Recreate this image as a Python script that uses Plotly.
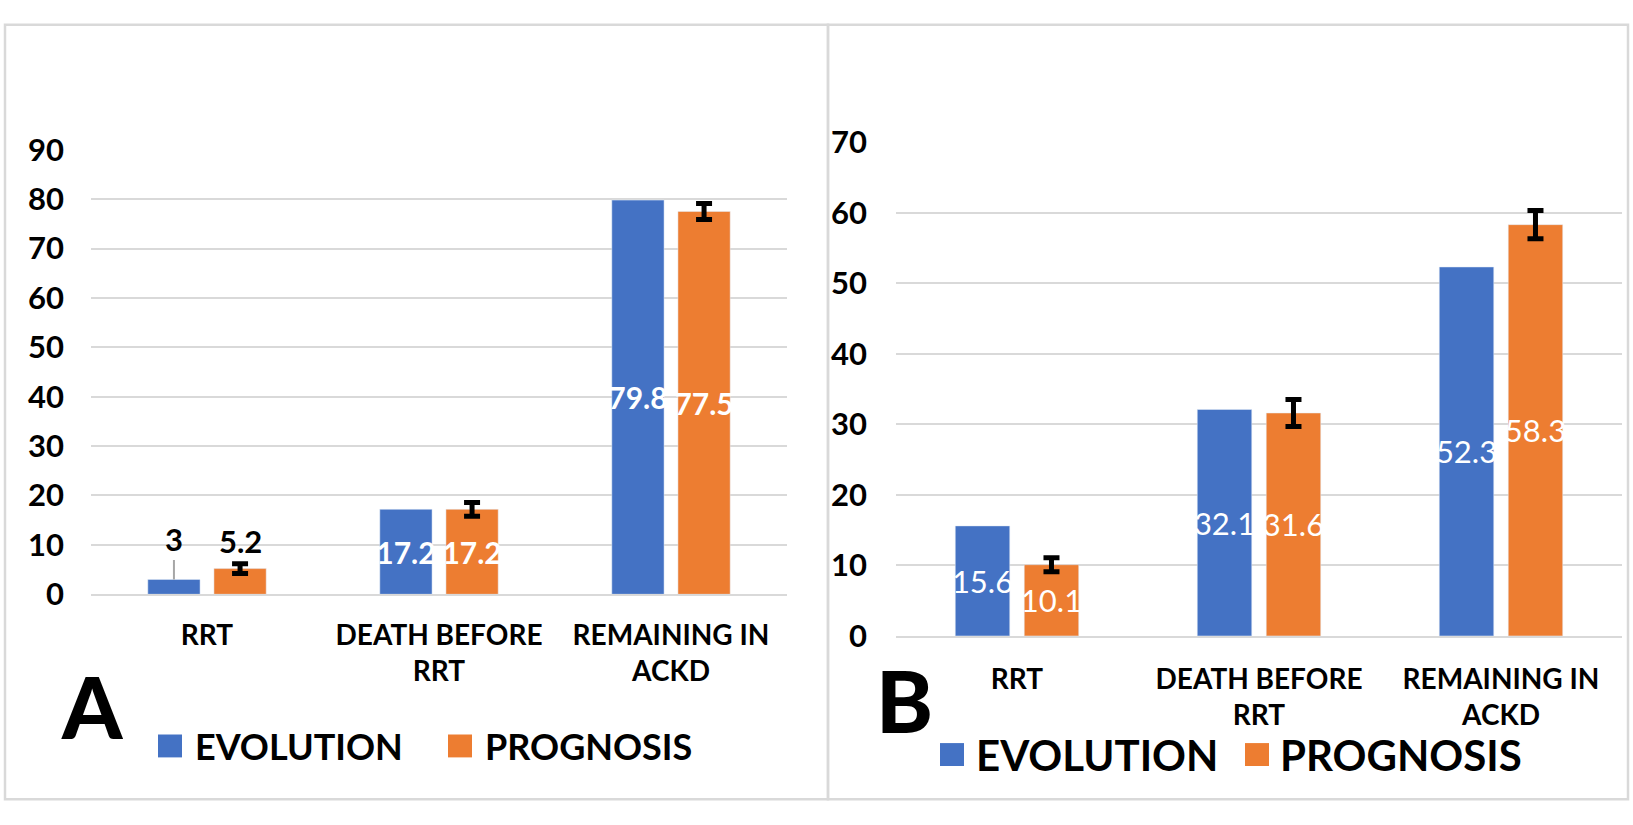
import plotly.graph_objects as go

W, H = 1633, 825

categories = ["RRT", "DEATH BEFORE<br>RRT", "REMAINING IN<br>ACKD"]
series_names = ["EVOLUTION", "PROGNOSIS"]
colors = ["#4472C4", "#ED7D31"]

# Panel A
a_evolution = [3.0, 17.2, 79.8]
a_prognosis = [5.2, 17.2, 77.5]
a_prognosis_err = [1.0, 1.4, 1.6]

# Panel B
b_evolution = [15.6, 32.1, 52.3]
b_prognosis = [10.1, 31.6, 58.3]
b_prognosis_err = [1.0, 1.9, 2.0]

a_yticks = [0, 10, 20, 30, 40, 50, 60, 70, 80, 90]
b_yticks = [0, 10, 20, 30, 40, 50, 60, 70]

FONT = "Lato, Carlito, sans-serif"
GRID = "#d9d9d9"
INSIDE_MIN = 8  # bars shorter than this get their label above

def px(x):
    return x / W

def py(y):
    return 1 - y / H

fig = go.Figure()

def add_panel(evo, prog, err, xa, ya, bold_labels, size):
    vals = [evo, prog]
    for i, name in enumerate(series_names):
        v = vals[i]
        txt = [f"{x:g}" if x >= INSIDE_MIN else "" for x in v]
        kw = {}
        if i == 1:
            kw["error_y"] = dict(type="data", array=err, visible=True,
                                 color="black", thickness=5, width=8)
        fig.add_trace(go.Bar(
            x=categories, y=v, name=name, marker_color=colors[i],
            text=txt, textposition="inside", insidetextanchor="middle",
            textangle=0, constraintext="none",
            textfont=dict(family=FONT, size=size, color="white",
                          weight="bold" if bold_labels else "normal"),
            xaxis=xa, yaxis=ya, showlegend=False, hoverinfo="skip",
            **kw))

add_panel(a_evolution, a_prognosis, a_prognosis_err, "x", "y", True, 30)
add_panel(b_evolution, b_prognosis, b_prognosis_err, "x2", "y2", False, 31)

# outside labels for short bars (panel A RRT)
slot_a = (787 - 91) / 3 * (1 - 0.43) / 2
for v, cat in zip(a_evolution, categories):
    if v < INSIDE_MIN:
        fig.add_annotation(x=cat, y=v, xref="x", yref="y", xshift=-slot_a / 2,
                           text=f"{v:g}", showarrow=True, arrowhead=0,
                           arrowcolor="#a6a6a6", arrowwidth=2, ax=0, ay=-40,
                           font=dict(family=FONT, size=31, color="black", weight="bold"))
for v, e, cat in zip(a_prognosis, a_prognosis_err, categories):
    if v < INSIDE_MIN:
        fig.add_annotation(x=cat, y=v, xref="x", yref="y", xshift=slot_a / 2,
                           text=f"{v:g}", showarrow=False, yshift=28,
                           yanchor="middle",
                           font=dict(family=FONT, size=31, color="black", weight="bold"))

axis_font = dict(family=FONT, size=31, color="black", weight="bold")
xtick_font = dict(family=FONT, size=28, color="black", weight="bold")

fig.update_layout(
    width=W, height=H, margin=dict(l=0, r=0, t=0, b=0),
    paper_bgcolor="white", plot_bgcolor="white",
    barmode="group", bargap=0.43, bargroupgap=0.21,
    showlegend=False,
    xaxis=dict(domain=[px(91), px(787)], anchor="y", tickfont=xtick_font,
               showline=True, linecolor=GRID, linewidth=2, ticks="",
               ticklabelstandoff=15, showgrid=False),
    yaxis=dict(domain=[py(602), py(136)], anchor="x", range=[0, 90],
               tickvals=a_yticks, tickfont=axis_font, showgrid=True,
               gridcolor=GRID, gridwidth=2, zeroline=False, ticks="",
               ticklabelstandoff=26, showline=False),
    xaxis2=dict(domain=[px(896), px(1622)], anchor="y2", tickfont=xtick_font,
                showline=True, linecolor=GRID, linewidth=2, ticks="",
                ticklabelstandoff=17, showgrid=False),
    yaxis2=dict(domain=[py(645.7), py(128)], anchor="x2", range=[0, 70],
                tickvals=b_yticks, tickfont=axis_font, showgrid=True,
                gridcolor=GRID, gridwidth=2, zeroline=False, ticks="",
                ticklabelstandoff=28, showline=False),
)

# panel frames
for x0, x1 in [(5, 828), (828, 1628)]:
    fig.add_shape(type="rect", xref="paper", yref="paper",
                  x0=px(x0), x1=px(x1), y0=py(817), y1=py(5),
                  line=dict(color=GRID, width=2.5), fillcolor="rgba(0,0,0,0)")

# panel letters
for letter, cx, cy in [("A", 92, 719), ("B", 904, 712)]:
    fig.add_annotation(x=px(cx), y=py(cy), xref="paper", yref="paper",
                       text=letter, showarrow=False, xanchor="center", yanchor="middle",
                       font=dict(family=FONT, size=86, color="black", weight=900))

# legends (one per panel)
legend_layout = [
    # (square x0, square y0, size, text x, font size)
    [(158, 749, 24, 193, 36), (448, 749, 24, 483, 36)],
    [(940, 758, 24, 974, 42), (1245, 758, 24, 1278, 42)],
]
for panel in legend_layout:
    for i, (sx, sy, s, tx, fs) in enumerate(panel):
        fig.add_shape(type="rect", xref="paper", yref="paper",
                      x0=px(sx), x1=px(sx + s), y0=py(sy + s), y1=py(sy),
                      line=dict(width=0), fillcolor=colors[i])
        fig.add_annotation(x=px(tx), y=py(sy + s / 2), xref="paper", yref="paper",
                           text=series_names[i], showarrow=False,
                           xanchor="left", yanchor="middle",
                           font=dict(family=FONT, size=fs, color="black", weight="bold"))

fig.write_html(
    "out.html",
    config={"displayModeBar": False},
    post_script="document.body.style.margin='0';"
                "document.documentElement.style.overflow='hidden';"
                "document.body.style.overflow='hidden';",
)
